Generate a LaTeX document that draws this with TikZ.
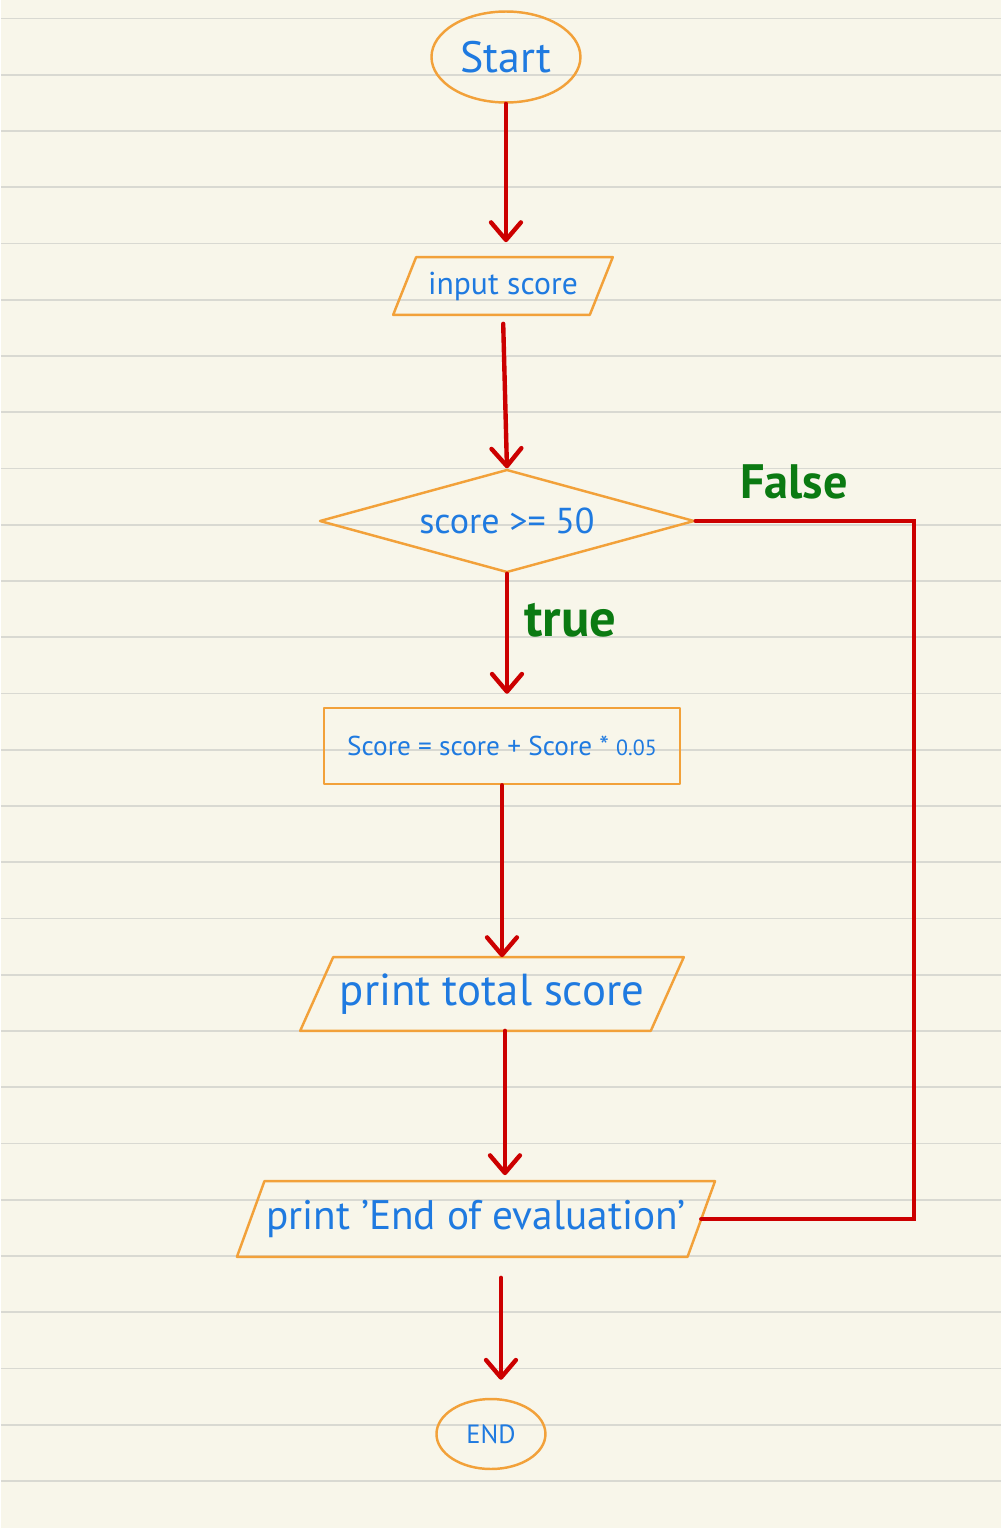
\documentclass[tikz,border=0pt]{standalone}
\usepackage{fontspec}
\setmainfont{PT Sans}
\usetikzlibrary{shapes.geometric,arrows.meta}
\definecolor{paper}{HTML}{F8F6EA}
\definecolor{ruleline}{HTML}{D9D9D2}
\definecolor{boxorange}{HTML}{F2A13A}
\definecolor{inkblue}{HTML}{1F7AE0}
\definecolor{inkgreen}{HTML}{0B7A12}
\definecolor{arrowred}{HTML}{CC0000}
\tikzstyle{boxline}=[draw=boxorange, line width=1.4pt, line join=round]
\tikzstyle{shapebase}=[boxline, inner sep=0pt, text=inkblue, align=center]
\tikzstyle{terminal}=[shapebase, ellipse]
\tikzstyle{io}=[rectangle, inner sep=0pt, text=inkblue, align=center]
\tikzstyle{decision}=[shapebase, diamond, aspect=3.64]
\tikzstyle{process}=[shapebase, rectangle]
\tikzstyle{line}=[draw, line width=2.5pt, color=arrowred, line cap=round]
\tikzstyle{flowarrow}=[line,
  -{Straight Barb[length=10pt,width=17pt,round]}]
\tikzstyle{labeltext}=[text=inkgreen, inner sep=0pt, font=\bfseries]
\tikzstyle{ruled}=[draw=ruleline, line width=1.1pt]
% slanted outline around an io node, #2 = half of the slant
\newcommand{\slantbox}[2]{%
  \draw[boxline] ([xshift=#2]#1.north west) -- ([xshift=#2]#1.north east)
    -- ([xshift=-#2]#1.south east) -- ([xshift=-#2]#1.south west) -- cycle;}

\begin{document}
\begin{tikzpicture}[x=0.02cm,y=-0.02cm]

  % lined paper
  \fill[paper] (0,0) rectangle (1000,1528);
  \foreach \k in {0,...,26}
    \draw[ruled] (0,18.5+56.25*\k) -- (1000,18.5+56.25*\k);

  % flowchart blocks
  \path (505,57) node (START) [terminal, minimum width=2.98cm,
    minimum height=1.82cm, font=\fontsize{25}{27}\selectfont] {Start};
  \path (502,286) node (INPUT) [io, minimum width=3.92cm, minimum height=1.14cm,
    font=\fontsize{18}{20}\selectfont] {input score};
  \path (506,521) node (DEC) [decision, minimum width=7.5cm,
    minimum height=2.06cm, font=\fontsize{20.5}{22}\selectfont] {score >= 50};
  \path (501,746) node (RECT) [process, minimum width=7.12cm,
    minimum height=1.52cm, font=\fontsize{15.5}{17}\selectfont]
    {Score = score + Score * {\fontsize{12.5}{14}\selectfont 0.05}};
  \path (491,994) node (TOTAL) [io, minimum width=7.0cm, minimum height=1.46cm,
    font=\fontsize{25.5}{27}\selectfont] {print total score};
  \path (475,1219) node (ENDEVAL) [io, minimum width=9.0cm, minimum height=1.5cm,
    font=\fontsize{23.5}{25}\selectfont] {print 'End of evaluation'};
  \path (490,1434) node (END) [terminal, minimum width=2.18cm,
    minimum height=1.4cm, font=\fontsize{15}{17}\selectfont] {END};

  \slantbox{INPUT}{0.23cm}
  \slantbox{TOTAL}{0.33cm}
  \slantbox{ENDEVAL}{0.275cm}

  \coordinate (FALSECORNER) at (913,521);

  % arrows
  \path [flowarrow, shorten >=0.3cm] (START.south) -- (START.south |- INPUT.north);
  \path [flowarrow, shorten <=0.18cm] (INPUT.south) -- (DEC.north);
  \path [flowarrow, shorten >=0.26cm] (DEC.south) --
    node [labeltext, right=0.3cm, pos=0.35, font=\fontsize{30}{32}\selectfont\bfseries]
    {true} (DEC.south |- RECT.north);
  \path [flowarrow] (RECT.south) -- (RECT.south |- TOTAL.north);
  \path [flowarrow, shorten >=0.12cm] ([xshift=0.26cm]TOTAL.south) --
    ([xshift=0.26cm]TOTAL.south |- ENDEVAL.north);
  \path [flowarrow, shorten <=0.42cm, shorten >=0.36cm]
    ([xshift=0.2cm]END.north |- ENDEVAL.south) -- ([xshift=0.2cm]END.north);

  % false branch
  \path [line] (DEC.east) --
    node [labeltext, above=0.4cm, pos=0.45, font=\fontsize{27.5}{29}\selectfont\bfseries]
    {False} (FALSECORNER) |- (ENDEVAL.east);

\end{tikzpicture}
\end{document}
